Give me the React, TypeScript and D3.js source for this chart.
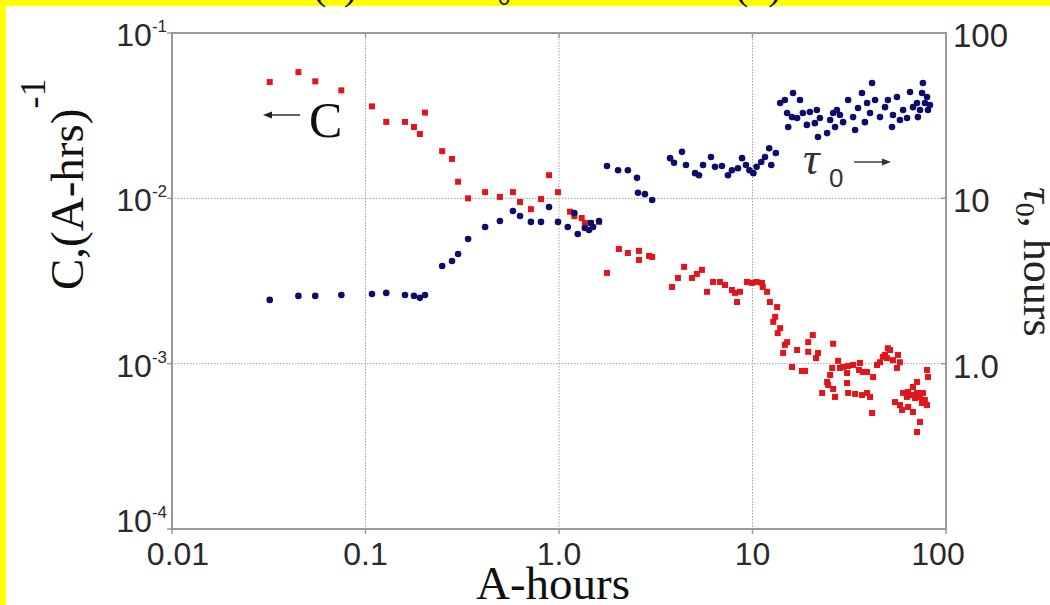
import React from "react";
import * as d3 from "d3";

// C series (left axis): A-hours vs C, (A-hrs)^-1
const cHours = [0.032,0.045,0.055,0.075,0.108,0.128,0.160,0.178,0.191,0.203,0.249,0.280,0.301,0.339,0.415,0.495,0.578,0.629,0.716,0.807,0.888,0.988,1.14,1.20,1.31,1.36,1.46,1.61,1.77,2.04,2.27,2.59,2.59,2.92,3.03,3.84,4.12,4.43,4.87,5.16,5.48,5.82,6.25,6.79,7.21,7.83,8.12,8.32,8.62,9.37,9.94,10.5,11.2,11.3,11.9,12.3,13.4,13.1,12.8,13.9,13.5,15.1,14.7,14.4,17.0,19.4,20.5,19.4,21.8,21.3,16.0,18.0,18.7,26.1,27.7,28.3,25.8,25.2,24.3,24.6,26.1,22.9,26.7,29.4,30.8,31.2,33.1,35.9,35.5,37.2,39.1,30.8,31.2,33.9,36.8,39.1,40.5,41.5,42.0,44.0,45.6,47.2,48.4,50.1,51.4,49.5,53.2,56.5,55.8,57.8,54.5,57.8,59.3,60.0,62.9,63.7,66.7,69.2,70.8,67.5,70.8,73.4,76.0,75.2,77.8,79.8,67.5,73.4,70.8,79.8,80.7,63.7];
const cValues = [0.0505,0.058,0.051,0.045,0.036,0.029,0.029,0.027,0.0245,0.033,0.0193,0.0173,0.0126,0.0100,0.0109,0.0102,0.0109,0.0095,0.0086,0.0099,0.0138,0.0109,0.0083,0.0078,0.0076,0.0071,0.0071,0.0072,0.00354,0.00494,0.00467,0.00481,0.00424,0.00448,0.00442,0.00291,0.00330,0.00385,0.00330,0.00349,0.00369,0.00272,0.00312,0.00312,0.00299,0.00279,0.00268,0.00236,0.00272,0.00312,0.00308,0.00312,0.00308,0.00291,0.00272,0.00236,0.00220,0.00192,0.00179,0.00164,0.00153,0.00135,0.00130,0.00116,0.00121,0.00135,0.00149,0.00118,0.00116,0.00108,0.000955,0.000903,0.000903,0.00132,0.00104,0.000942,0.000942,0.000854,0.000775,0.000743,0.000703,0.000665,0.000629,0.000955,0.000878,0.000968,0.000982,0.00101,0.000916,0.000891,0.000891,0.000764,0.000665,0.000656,0.000646,0.000665,0.000629,0.000503,0.000830,0.000982,0.00102,0.00110,0.00113,0.00124,0.00121,0.00108,0.00105,0.00113,0.000942,0.00102,0.000586,0.000562,0.000525,0.000665,0.000629,0.000674,0.000646,0.000620,0.000665,0.000723,0.000775,0.000629,0.000665,0.000578,0.000603,0.000562,0.000510,0.000444,0.000386,0.000916,0.000830,0.000547];

// tau0 series (right axis): A-hours vs tau0, hours
const tauHours = [0.032,0.045,0.055,0.075,0.108,0.128,0.160,0.178,0.191,0.203,0.249,0.280,0.301,0.339,0.415,0.495,0.578,0.629,0.716,0.807,0.888,0.988,1.11,1.20,1.25,1.36,1.43,1.50,1.61,1.46,1.77,2.02,2.27,2.53,2.56,2.78,3.03,3.75,3.93,4.32,4.53,5.05,5.29,5.55,6.10,6.40,6.95,7.47,7.83,8.41,8.83,9.25,10.1,10.5,11.1,11.6,12.2,12.5,13.2,9.64,13.9,14.7,16.2,17.6,15.1,16.0,15.3,17.0,18.2,19.1,19.8,21.5,22.3,21.0,21.8,24.3,25.2,26.1,27.3,28.3,26.7,29.4,31.2,33.1,33.9,35.1,36.8,38.1,39.1,40.5,41.5,43.0,45.6,48.4,50.1,52.6,53.2,55.8,57.8,60.0,62.9,65.2,67.5,70.8,73.4,76.0,79.8,80.7,77.8,75.2,71.6,82.6];
const tauValues = [2.43,2.57,2.57,2.60,2.64,2.68,2.60,2.57,2.50,2.60,3.90,4.18,4.61,5.68,6.71,7.30,8.39,7.82,7.20,7.20,8.87,7.20,6.71,8.16,6.09,6.62,6.44,6.71,7.30,7.10,15.7,14.8,14.8,13.3,10.8,10.6,9.77,17.5,16.4,19.1,15.9,14.2,13.8,15.9,17.8,15.5,15.7,13.8,14.8,15.2,17.5,15.9,14.2,15.5,16.6,17.8,20.1,15.9,18.8,14.8,37.7,39.3,43.4,39.3,32.8,31.0,27.0,30.6,32.8,27.8,33.3,34.2,30.6,28.5,23.5,24.8,29.8,32.8,34.2,31.9,27.0,28.9,39.3,31.0,25.9,35.2,43.4,28.9,37.7,32.8,49.8,39.3,31.0,35.6,39.3,27.0,31.9,41.0,29.8,34.2,30.6,44.0,35.6,37.7,34.2,49.8,41.0,34.2,37.7,43.4,31.0,36.7];

const xTicks = [0.01, 0.1, 1, 10, 100];
const xTickLabels = ["0.01", "0.1", "1.0", "10", "100"];
const leftTicks = [1e-1, 1e-2, 1e-3, 1e-4];
const leftTickExps = ["-1", "-2", "-3", "-4"];
const rightTicks = [100, 10, 1];
const rightTickLabels = ["100", "10", "1.0"];

const W = 1050, H = 605;
const M = { left: 172, right: 946, top: 33, bottom: 529 };

export default function App() {
  const x = d3.scaleLog().domain([0.01, 100]).range([M.left, M.right]);
  const yL = d3.scaleLog().domain([1e-4, 1e-1]).range([M.bottom, M.top]);
  const yR = d3.scaleLog().domain([0.1, 100]).range([M.bottom, M.top]);

  const sans = "'Liberation Sans', Arial, sans-serif";
  const serif = "'Liberation Serif', 'Times New Roman', serif";
  const axisColor = "#9a9a9a";
  const tickText = "#2a2a2a";
  const red = "#e3141c";
  const navy = "#0c0c6a";

  const redPts = cHours.map((h, i) => [h, cValues[i]]);
  const bluePts = tauHours.map((h, i) => [h, tauValues[i]]);

  return (
    <div style={{ position: "absolute", left: 0, top: 0 }}>
      <svg width={W} height={H} style={{ display: "block" }}>
        <rect x={0} y={0} width={W} height={H} fill="#ffff00" />
        <rect x={6} y={6} width={W - 6} height={H - 6} fill="#ffffff" />
        {/* cut-off caption fragments at top */}
        <text x={313} y={-1} fontFamily={serif} fontSize={40} fill="#111">(a)</text>
        <text x={498} y={5} fontFamily={sans} fontSize={22} fill="#111">0</text>
        <text x={735} y={-1} fontFamily={serif} fontSize={40} fill="#111">(b)</text>

        {/* grid */}
        {xTicks.slice(1, -1).map((t) => (
          <line key={"gx" + t} x1={x(t)} x2={x(t)} y1={M.top} y2={M.bottom} stroke="#a0a0a0" strokeWidth={1} strokeDasharray="1.5 1.5" />
        ))}
        {leftTicks.slice(1, -1).map((t) => (
          <line key={"gy" + t} x1={M.left} x2={M.right} y1={yL(t)} y2={yL(t)} stroke="#a0a0a0" strokeWidth={1} strokeDasharray="1.5 1.5" />
        ))}

        {/* frame */}
        <rect x={M.left} y={M.top} width={M.right - M.left} height={M.bottom - M.top} fill="none" stroke={axisColor} strokeWidth={2} />
        {xTicks.map((t) => (
          <g key={"tx" + t}>
            <line x1={x(t)} x2={x(t)} y1={M.bottom} y2={M.bottom + 5} stroke={axisColor} strokeWidth={1.5} />
            <line x1={x(t)} x2={x(t)} y1={M.top} y2={M.top + 5} stroke={axisColor} strokeWidth={1.5} />
          </g>
        ))}
        {leftTicks.map((t) => (
          <line key={"tl" + t} x1={M.left - 5} x2={M.left} y1={yL(t)} y2={yL(t)} stroke={axisColor} strokeWidth={1.5} />
        ))}
        {rightTicks.map((t) => (
          <line key={"tr" + t} x1={M.right - 5} x2={M.right} y1={yR(t)} y2={yR(t)} stroke={axisColor} strokeWidth={1.5} />
        ))}

        {/* x tick labels */}
        {xTicks.map((t, i) => (
          <text key={"lx" + t} x={x(t) + (i === 0 ? 6 : i === xTicks.length - 1 ? -8 : 0)} y={565} textAnchor="middle" fontFamily={sans} fontSize={32} fill={tickText}>
            {xTickLabels[i]}
          </text>
        ))}
        {/* left tick labels */}
        {leftTicks.map((t, i) => (
          <text key={"ll" + t} x={167} y={yL(t) + (i === leftTicks.length - 1 ? 3 : 13)} textAnchor="end" fontFamily={sans} fontSize={32} fill={tickText}>
            10<tspan fontSize={17} dy={-14}>{leftTickExps[i]}</tspan>
          </text>
        ))}
        {/* right tick labels */}
        {rightTicks.map((t, i) => (
          <text key={"lr" + t} x={953} y={yR(t) + 14} fontFamily={sans} fontSize={33} fill={tickText}>
            {rightTickLabels[i]}
          </text>
        ))}

        {/* data */}
        {redPts.map((p, i) => (
          <rect key={"r" + i} x={x(p[0]) - 3} y={yL(p[1]) - 3} width={6} height={6} fill={red} />
        ))}
        {bluePts.map((p, i) => (
          <circle key={"b" + i} cx={x(p[0])} cy={yR(p[1])} r={3.3} fill={navy} />
        ))}

        {/* annotations */}
        <line x1={300} y1={115} x2={268} y2={115} stroke="#222" strokeWidth={1.4} />
        <path d="M263,115 L272,111.5 L272,118.5 Z" fill="#222" />
        <text x={309} y={137} fontFamily={serif} fontSize={50} fill="#111">C</text>

        <text x={803} y={174} fontFamily={serif} fontStyle="italic" fontSize={46} fill="#333">τ</text>
        <text x={829} y={187} fontFamily={sans} fontSize={26} fill="#333">0</text>
        <line x1={854} y1={162} x2={885} y2={162} stroke="#333" strokeWidth={1.4} />
        <path d="M891,162 L882,158.5 L882,165.5 Z" fill="#333" />

        {/* axis titles */}
        <text x={553} y={599} textAnchor="middle" fontFamily={serif} fontSize={47} fill="#111">A-hours</text>
        <text transform="translate(83,290) rotate(-90)" fontFamily={serif} fontSize={47} fill="#111">
          C,(A-hrs)<tspan fontSize={36} dy={-38}>-1</tspan>
        </text>
        <text transform="translate(1024,187) rotate(90)" fontFamily={serif} fontSize={44} fill="#222">
          <tspan fontStyle="italic">τ</tspan>
          <tspan fontSize={28} dy={8}>0</tspan>
          <tspan dy={-8}>, hours</tspan>
        </text>
      </svg>
    </div>
  );
}
